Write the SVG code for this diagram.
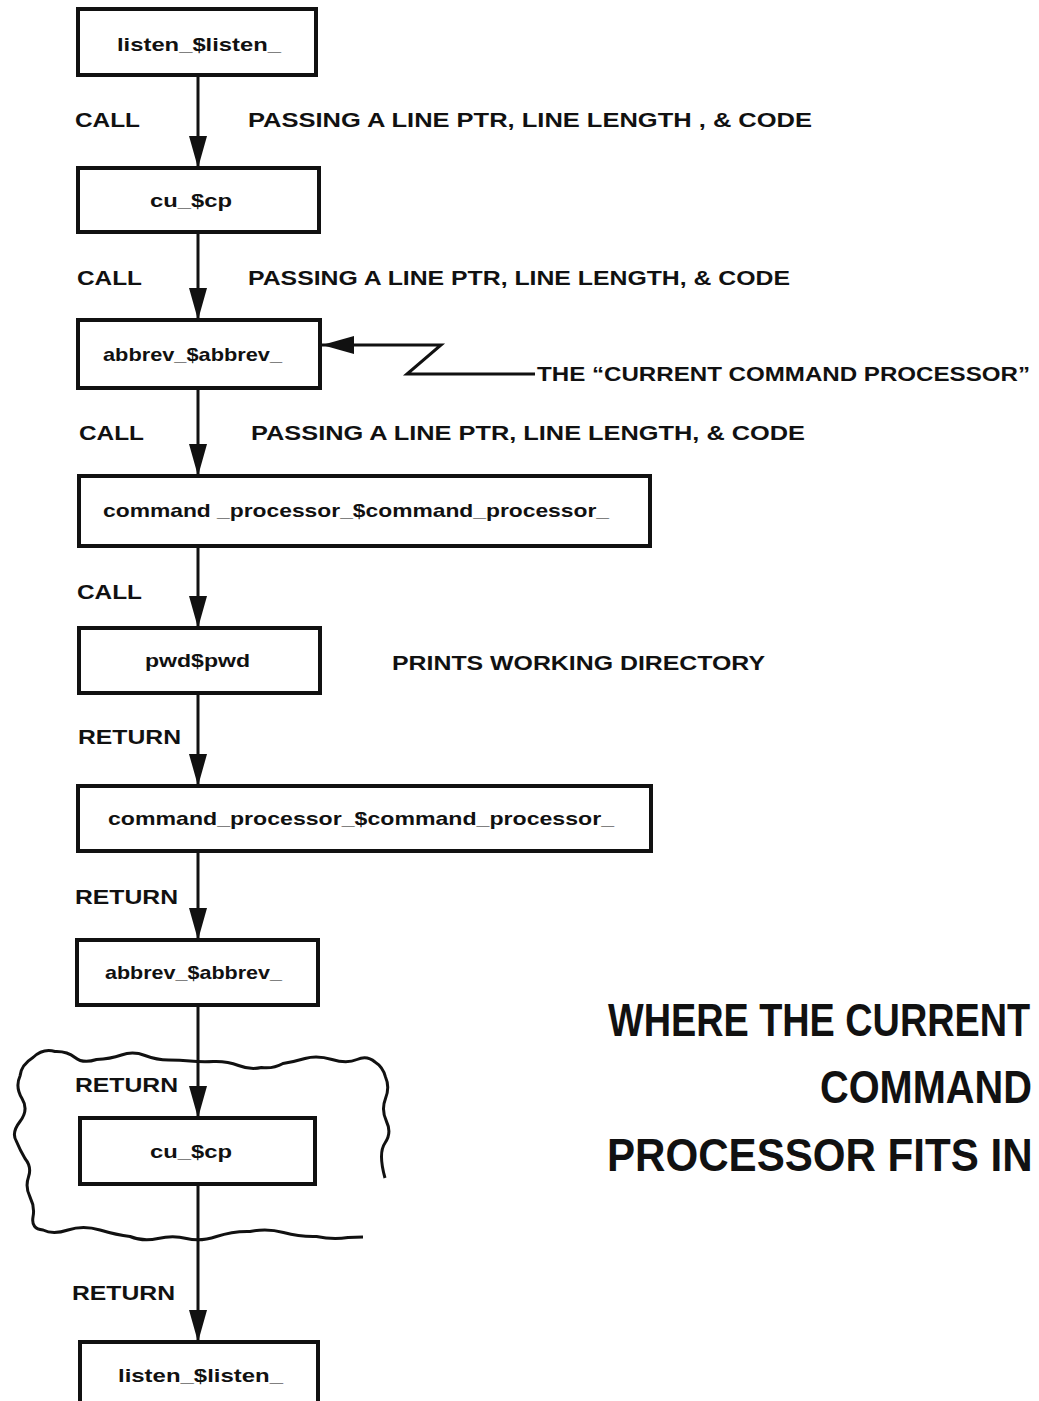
<svg xmlns="http://www.w3.org/2000/svg" width="1039" height="1401" viewBox="0 0 1039 1401">
<style>
.box{fill:#fff;stroke:#111;stroke-width:4}
.bt{font-family:"Liberation Sans",Arial,sans-serif;font-weight:bold;font-size:19px;fill:#111}
.lbl{font-family:"Liberation Sans",Arial,sans-serif;font-weight:bold;font-size:20px;fill:#111}
.big{font-family:"Liberation Sans",Arial,sans-serif;font-weight:bold;font-size:46px;fill:#111}
.ln{fill:none;stroke:#111;stroke-width:3}
</style>
<defs>
<marker id="ah" markerUnits="userSpaceOnUse" viewBox="0 0 32 18" refX="32" refY="9" markerWidth="32" markerHeight="18" orient="auto">
<path d="M0,0 L32,9 L0,18 z" fill="#111"/>
</marker>
</defs>
<rect width="1039" height="1401" fill="#fff"/>
<g id="connectors">
<line class="ln" x1="198" y1="75" x2="198" y2="168" marker-end="url(#ah)"/>
<line class="ln" x1="198" y1="232" x2="198" y2="320" marker-end="url(#ah)"/>
<line class="ln" x1="198" y1="388" x2="198" y2="476" marker-end="url(#ah)"/>
<line class="ln" x1="198" y1="546" x2="198" y2="628" marker-end="url(#ah)"/>
<line class="ln" x1="198" y1="693" x2="198" y2="786" marker-end="url(#ah)"/>
<line class="ln" x1="198" y1="851" x2="198" y2="940" marker-end="url(#ah)"/>
<line class="ln" x1="198" y1="1005" x2="198" y2="1118" marker-end="url(#ah)"/>
<line class="ln" x1="198" y1="1184" x2="198" y2="1342" marker-end="url(#ah)"/>
<polyline class="ln" points="535,374 407,374 441,345 322,345" marker-end="url(#ah)"/>
</g>
<g id="cloud">
<path class="ln" d="M385,1178 Q378,1153 385,1143 Q392,1133 386.5,1121.5 Q381,1110 385.5,1098.5 Q390,1087 385.5,1077 Q383,1067 375,1062 Q367,1055 357,1059.5 Q347,1064 332,1059.5 Q317,1055 305,1058.5 Q293,1062 283,1063.5 Q273,1069 261.5,1067.5 Q250,1070 238.5,1065.5 Q227,1061 213.5,1061.5 Q200,1062 190,1061 Q180,1060 168.5,1060 Q157,1060 145,1055.5 Q133,1051 121.5,1055 Q110,1059 96.5,1059.5 Q83,1064 75,1057.5 Q67,1051 55,1051.5 Q43,1048 33,1057.5 Q21,1065 20,1076 Q15,1087 22,1098.5 Q29,1110 20,1121.5 Q11,1133 16.5,1141.5 Q20,1150 25,1158.5 Q32,1167 28.5,1177 Q25,1187 30,1197 Q35,1207 33,1217 Q31,1229 43,1230 Q53,1235 68,1230 Q83,1225 100,1230 Q117,1235 130,1236.5 Q143,1242 158,1238.5 Q173,1235 186.5,1238.5 Q200,1242 216.5,1236.5 Q233,1231 250,1231.5 Q267,1228 283.5,1232.5 Q300,1237 316.5,1236.5 Q333,1240 348,1237.5 L363,1237"/>
</g>
<g id="n1"><rect class="box" x="78" y="9" width="238" height="66"/><text class="bt" x="117" y="51" textLength="164" lengthAdjust="spacingAndGlyphs">listen_$listen_</text></g>
<g id="n2"><rect class="box" x="78" y="168" width="241" height="64"/><text class="bt" x="150" y="207" textLength="82" lengthAdjust="spacingAndGlyphs">cu_$cp</text></g>
<g id="n3"><rect class="box" x="78" y="320" width="242" height="68"/><text class="bt" x="103" y="361" textLength="179" lengthAdjust="spacingAndGlyphs">abbrev_$abbrev_</text></g>
<g id="n4"><rect class="box" x="79" y="476" width="571" height="70"/><text class="bt" x="103" y="517" textLength="506" lengthAdjust="spacingAndGlyphs">command _processor_$command_processor_</text></g>
<g id="n5"><rect class="box" x="79" y="628" width="241" height="65"/><text class="bt" x="145" y="667" textLength="105" lengthAdjust="spacingAndGlyphs">pwd$pwd</text></g>
<g id="n6"><rect class="box" x="78" y="786" width="573" height="65"/><text class="bt" x="108" y="825" textLength="506" lengthAdjust="spacingAndGlyphs">command_processor_$command_processor_</text></g>
<g id="n7"><rect class="box" x="77" y="940" width="241" height="65"/><text class="bt" x="105" y="979" textLength="177" lengthAdjust="spacingAndGlyphs">abbrev_$abbrev_</text></g>
<g id="n8"><rect class="box" x="80" y="1118" width="235" height="66"/><text class="bt" x="150" y="1158" textLength="82" lengthAdjust="spacingAndGlyphs">cu_$cp</text></g>
<g id="n9"><rect class="box" x="80" y="1342" width="238" height="80"/><text class="bt" x="118" y="1382" textLength="165" lengthAdjust="spacingAndGlyphs">listen_$listen_</text></g>
<g id="labels">
<text class="lbl" x="75" y="127" textLength="65" lengthAdjust="spacingAndGlyphs">CALL</text>
<text class="lbl" x="248" y="127" textLength="564" lengthAdjust="spacingAndGlyphs">PASSING A LINE PTR, LINE LENGTH , &amp; CODE</text>
<text class="lbl" x="77" y="285" textLength="65" lengthAdjust="spacingAndGlyphs">CALL</text>
<text class="lbl" x="248" y="285" textLength="542" lengthAdjust="spacingAndGlyphs">PASSING A LINE PTR, LINE LENGTH, &amp; CODE</text>
<text class="lbl" x="537" y="381" textLength="493" lengthAdjust="spacingAndGlyphs">THE “CURRENT COMMAND PROCESSOR”</text>
<text class="lbl" x="79" y="440" textLength="65" lengthAdjust="spacingAndGlyphs">CALL</text>
<text class="lbl" x="251" y="440" textLength="554" lengthAdjust="spacingAndGlyphs">PASSING A LINE PTR,  LINE LENGTH, &amp; CODE</text>
<text class="lbl" x="77" y="599" textLength="65" lengthAdjust="spacingAndGlyphs">CALL</text>
<text class="lbl" x="392" y="670" textLength="373" lengthAdjust="spacingAndGlyphs">PRINTS WORKING DIRECTORY</text>
<text class="lbl" x="78" y="744" textLength="103" lengthAdjust="spacingAndGlyphs">RETURN</text>
<text class="lbl" x="75" y="904" textLength="103" lengthAdjust="spacingAndGlyphs">RETURN</text>
<text class="lbl" x="75" y="1092" textLength="103" lengthAdjust="spacingAndGlyphs">RETURN</text>
<text class="lbl" x="72" y="1300" textLength="103" lengthAdjust="spacingAndGlyphs">RETURN</text>
<text class="big" transform="matrix(0.822 0 0 1 608 1036)">WHERE THE CURRENT</text>
<text class="big" transform="matrix(0.864 0 0 1 820 1103)">COMMAND</text>
<text class="big" transform="matrix(0.915 0 0 1 607 1171)">PROCESSOR FITS IN</text>
</g>
</svg>
